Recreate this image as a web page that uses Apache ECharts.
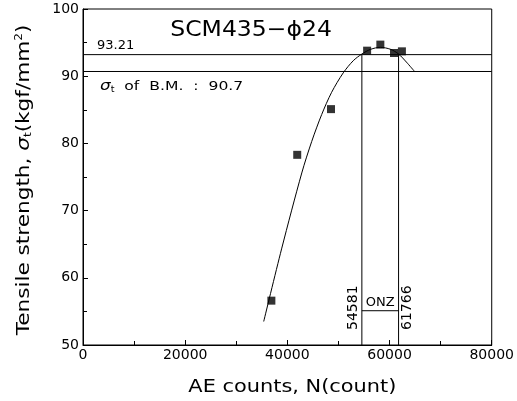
<!DOCTYPE html>
<html><head><meta charset="utf-8">
<script src="https://cdn.jsdelivr.net/npm/echarts@6/dist/echarts.min.js"></script>
<style>html,body{margin:0;padding:0;background:#fff}#c{width:517px;height:401px}</style>
</head><body><div id="c"></div>
<script>
// measured points
const pointsX = [36870, 41930, 48540, 55610, 58200, 60870, 62420];
const pointsY = [56.6, 78.3, 85.1, 93.8, 94.7, 93.45, 93.7];
// fitted curve
const curveX = [35370, 38870, 42820, 44770, 46720, 48660, 50940, 52890, 54581, 56300, 58200, 60200, 61766, 63300, 64900];
const curveY = [53.5, 64.3, 75.6, 80.3, 84.3, 87.6, 90.5, 92.3, 93.3, 94.0, 94.3, 94.0, 93.3, 92.1, 90.7];
const onzLeft = 54581, onzRight = 61766, onzY = 55.1;
const sigmaMax = 93.21, sigmaBM = 90.7;
const xTicks = [0, 20000, 40000, 60000, 80000];
const yTicks = [50, 60, 70, 80, 90, 100];

const FONT = 'DejaVu Sans';
const chart = echarts.init(document.getElementById('c'));
const lineStyle = {color: '#000', width: 1};
function seg(data) {
  return {type: 'line', data, symbol: 'none', lineStyle, silent: true, z: 2, animation: false};
}
chart.setOption({
  animation: false,
  backgroundColor: '#fff',
  grid: {left: 83, right: 23, top: 9, bottom: 56, show: true, borderColor: '#000', borderWidth: 1},
  xAxis: {
    type: 'value', min: xTicks[0], max: xTicks[xTicks.length - 1], interval: 20000,
    axisLine: {lineStyle: {color: '#000', width: 1}},
    axisTick: {inside: true, length: 5, lineStyle: {color: '#000'}},
    minorTick: {show: true, splitNumber: 2, length: 4, lineStyle: {color: '#000'}},
    splitLine: {show: false},
    axisLabel: {color: '#000', fontFamily: FONT, fontSize: 14, margin: 3, formatter: v => String(v)}
  },
  yAxis: {
    type: 'value', min: yTicks[0], max: yTicks[yTicks.length - 1], interval: 10,
    axisLine: {lineStyle: {color: '#000', width: 1}},
    axisTick: {inside: true, length: 5, lineStyle: {color: '#000'}},
    minorTick: {show: true, splitNumber: 2, length: 4, lineStyle: {color: '#000'}},
    splitLine: {show: false},
    axisLabel: {color: '#000', fontFamily: FONT, fontSize: 14, margin: 4, formatter: v => String(v)}
  },
  series: [
    seg([[xTicks[0], sigmaMax], [xTicks[xTicks.length - 1], sigmaMax]]),
    seg([[xTicks[0], sigmaBM], [xTicks[xTicks.length - 1], sigmaBM]]),
    seg([[onzLeft, yTicks[0]], [onzLeft, sigmaMax]]),
    seg([[onzRight, yTicks[0]], [onzRight, sigmaMax]]),
    seg([[onzLeft, onzY], [onzRight, onzY]]),
    {type: 'line', data: curveX.map((x, i) => [x, curveY[i]]), symbol: 'none', smooth: 0.3,
      lineStyle: {color: '#000', width: 1}, z: 3},
    {type: 'scatter', data: pointsX.map((x, i) => [x, pointsY[i]]), symbol: 'rect', symbolSize: 8,
      itemStyle: {color: '#000'}, z: 5}
  ]
});

function px(x, y) { return chart.convertToPixel({gridIndex: 0}, [x, y]); }
const pTitle = px(32900, 96.8);
const p93 = px(0, sigmaMax);
const pBM = px(0, sigmaBM);
const pL = px(onzLeft, onzY);
const pR = px(onzRight, onzY);
const g = chart.getModel().getComponent('grid').coordinateSystem.getRect();
const txt = (o) => Object.assign({fill: '#000', fontFamily: FONT}, o);
chart.setOption({
  graphic: [
    {type: 'text', x: pTitle[0], y: pTitle[1], scaleX: 1.12, style: txt({text: 'SCM435−ϕ24', fontSize: 21, align: 'center', verticalAlign: 'middle'})},
    {type: 'text', x: p93[0] + 14, y: p93[1] - 3, style: txt({text: '93.21', fontSize: 13, align: 'left', verticalAlign: 'bottom'})},
    {type: 'text', x: pBM[0] + 17, y: pBM[1] + 8, scaleX: 1.2, style: txt({
      text: '{i|σ}{s|t}  of  B.M.  :  90.7', fontSize: 13, align: 'left', verticalAlign: 'top',
      rich: {i: {fontStyle: 'italic', fontSize: 14, fontFamily: FONT}, s: {fontSize: 8, fontFamily: FONT, padding: [6, 0, 0, 0]}}})},
    {type: 'text', x: (pL[0] + pR[0]) / 2, y: pL[1] - 2, style: txt({text: 'ONZ', fontSize: 13, align: 'center', verticalAlign: 'bottom'})},
    {type: 'text', x: pL[0] - 2, y: pL[1] - 3, rotation: Math.PI / 2, style: txt({text: String(onzLeft), fontSize: 14, align: 'center', verticalAlign: 'bottom'})},
    {type: 'text', x: pR[0] + 2, y: pR[1] - 3, rotation: Math.PI / 2, style: txt({text: String(onzRight), fontSize: 14, align: 'center', verticalAlign: 'top'})},
    {type: 'text', x: g.x + g.width / 2 + 5, y: g.y + g.height + 42, scaleX: 1.16, style: txt({text: 'AE counts, N(count)', fontSize: 18, align: 'center', verticalAlign: 'middle'})},
    {type: 'text', x: 24, y: g.y + g.height / 2 + 3, rotation: Math.PI / 2, scaleX: 1.2, style: txt({
      text: 'Tensile strength, {i|σ}{s|t}(kgf/mm{p|2})', fontSize: 18, align: 'center', verticalAlign: 'middle',
      rich: {
        i: {fontFamily: FONT, fontSize: 18, fontStyle: 'italic'},
        s: {fontFamily: FONT, fontSize: 10, padding: [9, 0, 0, 0]},
        p: {fontFamily: FONT, fontSize: 10, padding: [0, 0, 9, 0]}
      }})}
  ]
});
</script></body></html>
